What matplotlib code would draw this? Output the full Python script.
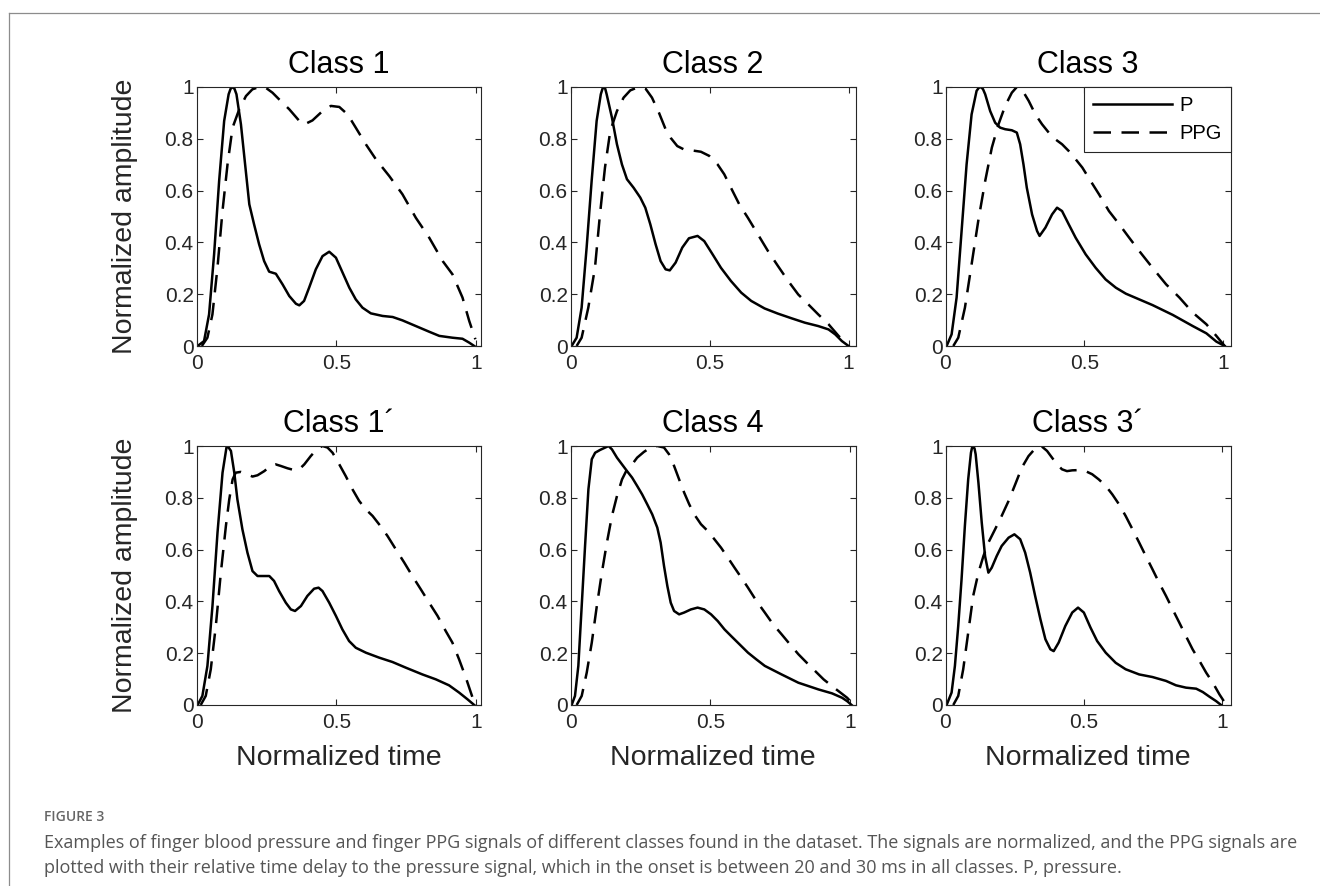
import matplotlib
matplotlib.use("Agg")
import matplotlib.pyplot as plt
from matplotlib.lines import Line2D

# normalized pulse shapes: P = finger blood pressure, PPG = finger photoplethysmogram
class1_p_t = [0.004, 0.027, 0.045, 0.063, 0.081, 0.099, 0.115, 0.122, 0.129, 0.136, 0.143, 0.159, 0.174, 0.189,
              0.206, 0.224, 0.242, 0.26, 0.284, 0.308, 0.332, 0.356, 0.368, 0.385, 0.403, 0.427, 0.451, 0.475,
              0.499, 0.523, 0.547, 0.57, 0.594, 0.624, 0.666, 0.702, 0.737, 0.785, 0.833, 0.869, 0.916, 0.952,
              0.976, 0.994]
class1_p = [0, 0.019, 0.122, 0.354, 0.637, 0.869, 0.972, 0.993, 1, 0.993, 0.972, 0.856, 0.701, 0.547,
            0.47, 0.393, 0.328, 0.287, 0.279, 0.238, 0.193, 0.163, 0.157, 0.174, 0.225, 0.296, 0.347, 0.364,
            0.341, 0.283, 0.225, 0.18, 0.148, 0.126, 0.116, 0.112, 0.099, 0.077, 0.055, 0.039, 0.032, 0.028,
            0.013, 0]
class1_ppg_t = [0.019, 0.039, 0.057, 0.075, 0.093, 0.111, 0.129, 0.153, 0.177, 0.2, 0.224, 0.248, 0.272, 0.296,
                0.332, 0.368, 0.385, 0.415, 0.451, 0.481, 0.511, 0.541, 0.57, 0.606, 0.642, 0.69, 0.737, 0.785,
                0.833, 0.881, 0.916, 0.952, 0.976, 0.998]
class1_ppg = [0, 0.032, 0.122, 0.302, 0.521, 0.701, 0.843, 0.914, 0.965, 0.991, 1.0, 0.997, 0.978, 0.952,
              0.914, 0.869, 0.855, 0.871, 0.907, 0.927, 0.923, 0.894, 0.843, 0.779, 0.721, 0.656, 0.586, 0.495,
              0.418, 0.328, 0.277, 0.187, 0.097, 0.026]

class2_p_t = [0.004, 0.022, 0.04, 0.058, 0.076, 0.094, 0.109, 0.115, 0.12, 0.125, 0.13, 0.149, 0.167, 0.185,
              0.203, 0.227, 0.251, 0.269, 0.287, 0.306, 0.324, 0.342, 0.357, 0.378, 0.402, 0.426, 0.457, 0.481,
              0.511, 0.541, 0.577, 0.614, 0.65, 0.698, 0.746, 0.795, 0.843, 0.891, 0.928, 0.952, 0.976, 1.0]
class2_p = [0, 0.032, 0.148, 0.38, 0.637, 0.869, 0.972, 0.993, 1, 0.993, 0.972, 0.882, 0.779, 0.701,
            0.644, 0.611, 0.573, 0.534, 0.47, 0.393, 0.328, 0.296, 0.292, 0.322, 0.38, 0.416, 0.425, 0.405,
            0.354, 0.302, 0.251, 0.206, 0.174, 0.145, 0.125, 0.107, 0.09, 0.077, 0.064, 0.045, 0.019, 0]
class2_ppg_t = [0.022, 0.04, 0.064, 0.088, 0.106, 0.124, 0.143, 0.167, 0.191, 0.215, 0.245, 0.269, 0.293, 0.318,
                0.342, 0.36, 0.384, 0.408, 0.438, 0.469, 0.499, 0.529, 0.553, 0.577, 0.607, 0.638, 0.674, 0.71,
                0.746, 0.783, 0.819, 0.855, 0.891, 0.928, 0.964, 0.994]
class2_ppg = [0, 0.032, 0.148, 0.302, 0.508, 0.689, 0.83, 0.907, 0.959, 0.987, 1, 0.995, 0.959, 0.901,
              0.837, 0.804, 0.772, 0.759, 0.755, 0.75, 0.734, 0.701, 0.663, 0.611, 0.547, 0.495, 0.431, 0.367,
              0.309, 0.251, 0.199, 0.161, 0.122, 0.084, 0.039, 0.006]

class3_p_t = [0.004, 0.022, 0.04, 0.058, 0.076, 0.094, 0.112, 0.12, 0.127, 0.135, 0.143, 0.161, 0.179, 0.197,
              0.215, 0.239, 0.257, 0.269, 0.281, 0.293, 0.312, 0.33, 0.339, 0.36, 0.384, 0.402, 0.42, 0.444,
              0.469, 0.505, 0.541, 0.577, 0.614, 0.65, 0.698, 0.746, 0.819, 0.891, 0.94, 0.976, 1.006]
class3_p = [0, 0.045, 0.187, 0.444, 0.701, 0.894, 0.985, 0.997, 1, 0.992, 0.972, 0.907, 0.862, 0.843,
            0.837, 0.833, 0.824, 0.779, 0.701, 0.611, 0.508, 0.444, 0.425, 0.457, 0.508, 0.534, 0.521, 0.47,
            0.418, 0.354, 0.302, 0.257, 0.225, 0.202, 0.18, 0.158, 0.12, 0.077, 0.049, 0.017, 0]
class3_ppg_t = [0.028, 0.046, 0.07, 0.094, 0.118, 0.143, 0.167, 0.191, 0.215, 0.239, 0.257, 0.275, 0.3, 0.324,
                0.348, 0.372, 0.396, 0.42, 0.444, 0.469, 0.493, 0.523, 0.553, 0.589, 0.626, 0.662, 0.698, 0.746,
                0.795, 0.843, 0.891, 0.94, 0.976, 1.006]
class3_ppg = [0, 0.032, 0.148, 0.315, 0.483, 0.637, 0.766, 0.856, 0.927, 0.978, 1, 0.991, 0.946, 0.894,
              0.856, 0.824, 0.798, 0.779, 0.753, 0.721, 0.689, 0.637, 0.586, 0.521, 0.47, 0.418, 0.367, 0.302,
              0.238, 0.187, 0.129, 0.084, 0.039, 0]

class1b_p_t = [0.004, 0.021, 0.039, 0.057, 0.075, 0.093, 0.107, 0.111, 0.123, 0.135, 0.146, 0.164, 0.182, 0.2,
               0.218, 0.242, 0.26, 0.277, 0.295, 0.319, 0.337, 0.352, 0.373, 0.396, 0.42, 0.436, 0.45, 0.474,
               0.498, 0.521, 0.545, 0.569, 0.605, 0.652, 0.7, 0.748, 0.807, 0.855, 0.902, 0.938, 0.968, 0.992]
class1b_p = [0, 0.035, 0.151, 0.382, 0.665, 0.897, 0.994, 1, 0.981, 0.897, 0.794, 0.678, 0.588, 0.517,
             0.498, 0.498, 0.498, 0.479, 0.44, 0.395, 0.369, 0.363, 0.382, 0.421, 0.449, 0.453, 0.44, 0.395,
             0.344, 0.292, 0.247, 0.221, 0.202, 0.183, 0.166, 0.144, 0.118, 0.099, 0.076, 0.048, 0.022, 0]
class1b_ppg_t = [0.015, 0.033, 0.051, 0.069, 0.087, 0.105, 0.117, 0.129, 0.14, 0.158, 0.176, 0.2, 0.218, 0.242,
                 0.265, 0.283, 0.301, 0.325, 0.349, 0.367, 0.385, 0.408, 0.432, 0.45, 0.468, 0.486, 0.51, 0.533,
                 0.557, 0.581, 0.605, 0.629, 0.652, 0.682, 0.712, 0.742, 0.771, 0.801, 0.831, 0.861, 0.89, 0.914,
                 0.938, 0.962, 0.98, 0.995]
class1b_ppg = [0, 0.035, 0.138, 0.305, 0.511, 0.691, 0.794, 0.871, 0.897, 0.9, 0.893, 0.882, 0.887, 0.903,
               0.923, 0.929, 0.923, 0.914, 0.907, 0.91, 0.929, 0.961, 0.99, 1, 0.994, 0.974, 0.929, 0.884,
               0.833, 0.788, 0.755, 0.73, 0.698, 0.653, 0.601, 0.55, 0.498, 0.447, 0.395, 0.344, 0.286, 0.241,
               0.176, 0.106, 0.048, 0]

class4_p_t = [0.004, 0.016, 0.028, 0.04, 0.052, 0.064, 0.076, 0.088, 0.106, 0.124, 0.136, 0.148, 0.166, 0.184,
              0.202, 0.22, 0.238, 0.256, 0.274, 0.292, 0.31, 0.322, 0.334, 0.346, 0.358, 0.37, 0.388, 0.406,
              0.43, 0.454, 0.478, 0.502, 0.526, 0.55, 0.574, 0.604, 0.634, 0.664, 0.694, 0.754, 0.814, 0.886,
              0.934, 0.97, 0.988, 1.004]
class4_p = [0, 0.035, 0.151, 0.382, 0.614, 0.833, 0.949, 0.974, 0.985, 0.994, 1, 0.987, 0.955, 0.929,
            0.903, 0.878, 0.846, 0.813, 0.775, 0.736, 0.685, 0.627, 0.537, 0.459, 0.395, 0.363, 0.35, 0.357,
            0.369, 0.376, 0.369, 0.35, 0.324, 0.292, 0.266, 0.234, 0.202, 0.176, 0.151, 0.118, 0.086, 0.06,
            0.045, 0.028, 0.015, 0]
class4_ppg_t = [0.022, 0.04, 0.058, 0.076, 0.094, 0.112, 0.13, 0.148, 0.166, 0.184, 0.202, 0.22, 0.238, 0.262,
                0.286, 0.31, 0.334, 0.352, 0.37, 0.388, 0.406, 0.424, 0.442, 0.466, 0.49, 0.514, 0.538, 0.562,
                0.586, 0.61, 0.634, 0.664, 0.694, 0.724, 0.754, 0.784, 0.814, 0.844, 0.874, 0.904, 0.934, 0.964,
                0.988, 1.012]
class4_ppg = [0, 0.035, 0.125, 0.241, 0.382, 0.511, 0.627, 0.73, 0.807, 0.871, 0.91, 0.929, 0.955, 0.977,
              0.994, 1, 0.994, 0.968, 0.923, 0.871, 0.82, 0.775, 0.736, 0.698, 0.672, 0.64, 0.607, 0.569,
              0.53, 0.492, 0.453, 0.402, 0.357, 0.311, 0.273, 0.234, 0.196, 0.163, 0.131, 0.099, 0.073, 0.048,
              0.028, 0]

class3b_p_t = [0.004, 0.022, 0.034, 0.046, 0.058, 0.07, 0.082, 0.092, 0.096, 0.1, 0.105, 0.109, 0.119, 0.131,
               0.143, 0.155, 0.167, 0.185, 0.203, 0.228, 0.249, 0.27, 0.288, 0.306, 0.324, 0.343, 0.361, 0.379,
               0.391, 0.409, 0.433, 0.458, 0.479, 0.5, 0.524, 0.548, 0.579, 0.615, 0.651, 0.7, 0.748, 0.797,
               0.833, 0.869, 0.906, 0.93, 0.954, 0.978, 0.996]
class3b_p = [0, 0.048, 0.151, 0.305, 0.485, 0.691, 0.871, 0.974, 0.994, 1, 0.99, 0.968, 0.858, 0.704,
             0.575, 0.511, 0.53, 0.575, 0.614, 0.646, 0.659, 0.64, 0.588, 0.511, 0.421, 0.331, 0.254, 0.215,
             0.208, 0.241, 0.305, 0.357, 0.376, 0.357, 0.299, 0.247, 0.202, 0.163, 0.138, 0.118, 0.108, 0.093,
             0.076, 0.067, 0.063, 0.05, 0.032, 0.015, 0]
class3b_ppg_t = [0.028, 0.046, 0.064, 0.082, 0.1, 0.119, 0.137, 0.155, 0.179, 0.203, 0.228, 0.252, 0.276, 0.3,
                 0.324, 0.346, 0.367, 0.385, 0.403, 0.421, 0.439, 0.458, 0.482, 0.506, 0.53, 0.554, 0.579, 0.603,
                 0.627, 0.651, 0.676, 0.7, 0.724, 0.748, 0.772, 0.797, 0.821, 0.845, 0.869, 0.893, 0.918, 0.942,
                 0.966, 0.99, 1.015]
class3b_ppg = [0, 0.035, 0.138, 0.279, 0.421, 0.511, 0.575, 0.627, 0.678, 0.73, 0.788, 0.852, 0.917, 0.961,
               0.99, 1, 0.981, 0.955, 0.929, 0.91, 0.903, 0.906, 0.907, 0.903, 0.891, 0.871, 0.846, 0.813,
               0.775, 0.73, 0.678, 0.627, 0.575, 0.524, 0.472, 0.421, 0.369, 0.318, 0.266, 0.215, 0.17, 0.125,
               0.086, 0.041, 0]

titles = ["Class 1", "Class 2", "Class 3", "Class 1\u00b4", "Class 4", "Class 3\u00b4"]
x_max = [1.02, 1.025, 1.027, 1.018, 1.018, 1.03]
signals = [
    (class1_p_t, class1_p, class1_ppg_t, class1_ppg),
    (class2_p_t, class2_p, class2_ppg_t, class2_ppg),
    (class3_p_t, class3_p, class3_ppg_t, class3_ppg),
    (class1b_p_t, class1b_p, class1b_ppg_t, class1b_ppg),
    (class4_p_t, class4_p, class4_ppg_t, class4_ppg),
    (class3b_p_t, class3b_p, class3b_ppg_t, class3b_ppg),
]

caption_head = "FIGURE 3"
caption_lines = [
    "Examples of finger blood pressure and finger PPG signals of different classes found in the dataset. "
    "The signals are normalized, and the PPG signals are",
    "plotted with their relative time delay to the pressure signal, which in the onset is between 20 and "
    "30 ms in all classes. P, pressure.",
]

plt.rcParams['font.family'] = ['Liberation Sans', 'DejaVu Sans']
AX_COL = '#262626'
W, H = 1320, 886

fig = plt.figure(figsize=(W / 100, H / 100), dpi=100)

lefts = [196.5, 570.5, 945.5]
tops = [87, 446]
ax_w, ax_h = 285, 259

for i, (p_t, p, ppg_t, ppg) in enumerate(signals):
    row, col = divmod(i, 3)
    ax = fig.add_axes([lefts[col] / W, 1 - (tops[row] + ax_h) / H, ax_w / W, ax_h / H])
    ax.plot(p_t, p, color='black', lw=1.8, solid_joinstyle='round', label='P')
    ax.plot(ppg_t, ppg, color='black', lw=1.8, linestyle=(0, (7, 4.2)), label='PPG')
    ax.set_xlim(0, x_max[i])
    ax.set_ylim(0, 1)
    ax.set_xticks([0, 0.5, 1])
    ax.set_xticklabels(['0', '0.5', '1'])
    ax.set_yticks([0, 0.2, 0.4, 0.6, 0.8, 1])
    ax.set_yticklabels(['0', '0.2', '0.4', '0.6', '0.8', '1'])
    ax.tick_params(direction='in', top=True, right=True, length=4, width=0.8, color=AX_COL,
                   labelsize=15, labelcolor=AX_COL)
    ax.tick_params(axis='x', pad=6)
    ax.tick_params(axis='y', pad=2)
    for s in ax.spines.values():
        s.set_color(AX_COL)
        s.set_linewidth(0.8)
    ax.set_title(titles[i], fontsize=22, color='black', pad=10)
    if col == 0:
        ax.set_ylabel('Normalized amplitude', fontsize=20.5, color=AX_COL, labelpad=19)
    if row == 1:
        ax.set_xlabel('Normalized time', fontsize=20.5, color=AX_COL, labelpad=9)
    if i == 2:
        leg = ax.legend(loc='upper right', borderaxespad=0, fancybox=False, framealpha=1,
                        edgecolor=AX_COL, fontsize=14.5, handlelength=3.9, handletextpad=0.35,
                        labelspacing=0.45, borderpad=0.45)
        leg.get_frame().set_linewidth(0.8)

# page frame lines
fig.add_artist(Line2D([9 / W, 1], [1 - 13 / H, 1 - 13 / H], transform=fig.transFigure,
                      color='#8c8c8c', lw=0.9))
fig.add_artist(Line2D([9 / W, 9 / W], [0, 1 - 13 / H], transform=fig.transFigure,
                      color='#8c8c8c', lw=0.9))

fig.text(44 / W, 1 - 817 / H, caption_head, fontfamily='Open Sans', fontweight='semibold',
         fontsize=10, color='#666666', va='center')
for k, line in enumerate(caption_lines):
    fig.text(44 / W, 1 - (843 + 25 * k) / H, line, fontfamily='Open Sans', fontsize=13,
             color='#555555', va='center')

fig.savefig('out.png', dpi=100)
